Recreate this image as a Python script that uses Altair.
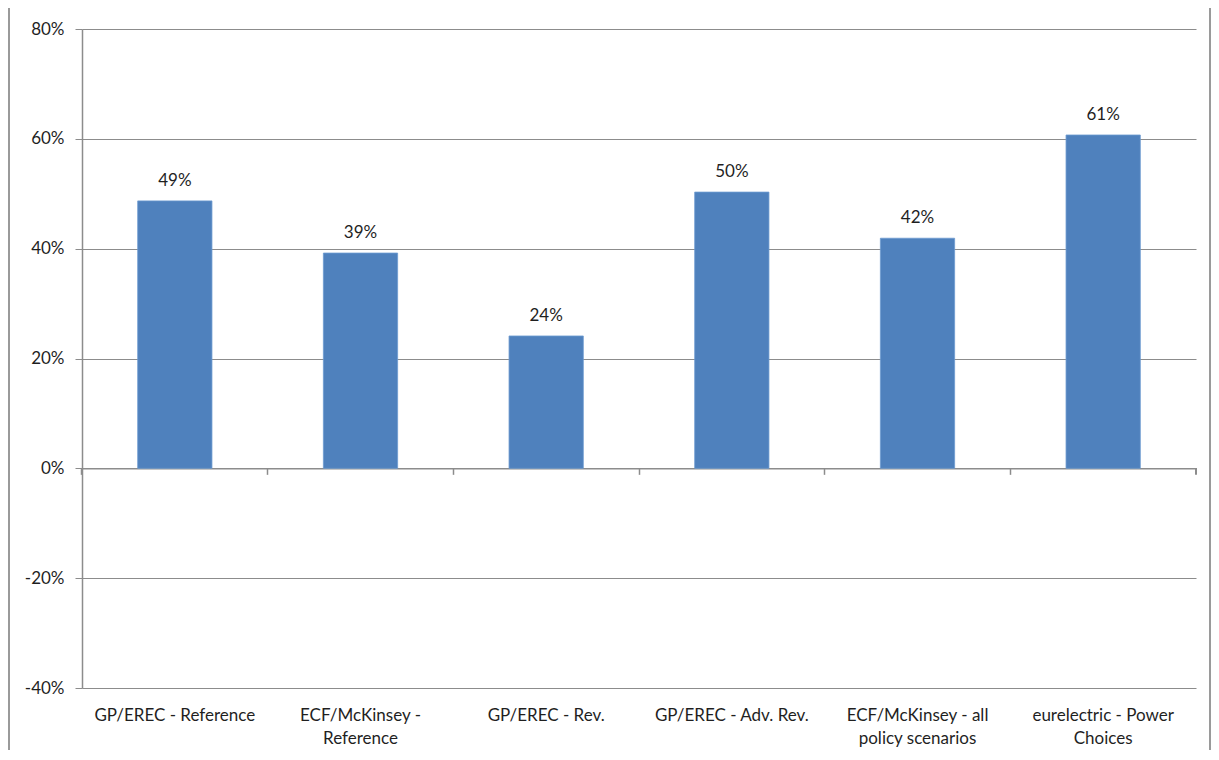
import altair as alt
import pandas as pd

categories = [
    "GP/EREC - Reference",
    "ECF/McKinsey - Reference",
    "GP/EREC - Rev.",
    "GP/EREC - Adv. Rev.",
    "ECF/McKinsey - all policy scenarios",
    "eurelectric - Power Choices",
]
label_lines = [
    ["GP/EREC - Reference"],
    ["ECF/McKinsey -", "Reference"],
    ["GP/EREC - Rev."],
    ["GP/EREC - Adv. Rev."],
    ["ECF/McKinsey - all", "policy scenarios"],
    ["eurelectric - Power", "Choices"],
]
values = [0.487, 0.392, 0.241, 0.503, 0.419, 0.607]
value_labels = ["49%", "39%", "24%", "50%", "42%", "61%"]
y_ticks = [-0.4, -0.2, 0.0, 0.2, 0.4, 0.6, 0.8]

df = pd.DataFrame({"cat": categories, "val": values, "lab": value_labels})

W, H = 1114, 659
FONT = "Lato"
FS = 17
GRID = "#8c8c8c"
TXT = "#1f1f1f"

label_expr = "{" + ", ".join(
    f"{c!r}: {l!r}" for c, l in zip(categories, label_lines)
).replace("'", '"') + "}[datum.value]"

x_enc = alt.X(
    "cat:N",
    sort=categories,
    scale=alt.Scale(paddingInner=0.6, paddingOuter=0.3),
    axis=alt.Axis(
        title=None,
        orient="bottom",
        labelAngle=0,
        labelExpr=label_expr,
        labelFont=FONT,
        labelFontSize=FS,
        labelColor=TXT,
        labelPadding=19,
        labelLineHeight=23,
        domain=False,
        ticks=False,
        grid=False,
    ),
)
y_enc = alt.Y(
    "val:Q",
    scale=alt.Scale(domain=[-0.4, 0.8], nice=False),
    axis=alt.Axis(
        title=None,
        values=y_ticks,
        labelExpr="round(datum.value * 100) + '%'",
        labelFont=FONT,
        labelFontSize=FS,
        labelColor=TXT,
        labelPadding=11,
        tickSize=7,
        tickColor=GRID,
        domainColor=GRID,
        domainWidth=1.5,
        gridColor=GRID,
        gridWidth=1.2,
    ),
)

bars = alt.Chart(df).mark_bar(color="#4F81BD", stroke="#6C9AD0", strokeWidth=0.8).encode(
    x=x_enc, y=y_enc
)

text = alt.Chart(df).mark_text(
    dy=-20, font=FONT, fontSize=FS, color=TXT
).encode(
    x=alt.X("cat:N", sort=categories, axis=None),
    y="val:Q",
    text="lab:N",
)

zero_axis = alt.Chart(df).mark_bar(opacity=0).encode(
    x=alt.X(
        "cat:N",
        sort=categories,
        axis=alt.Axis(
            title=None,
            orient="bottom",
            offset=-(H * 0.4 / 1.2),
            labels=False,
            domain=True,
            domainColor=GRID,
            domainWidth=1.5,
            ticks=True,
            tickColor=GRID,
            tickWidth=1.5,
            tickSize=6,
            bandPosition=-0.75,
            grid=False,
        ),
    ),
    y="val:Q",
)

end_tick = alt.Chart(df).mark_rule(color=GRID, strokeWidth=1.5).encode(
    x=alt.value(W), y=alt.datum(0), y2=alt.value(H * 0.8 / 1.2 + 6)
)

frame = alt.Chart(df).mark_rect(fill=None, stroke="#9a9a9a", strokeWidth=1.5).encode(
    x=alt.value(-73), x2=alt.value(W + 14), y=alt.value(-23), y2=alt.value(H + 80)
)

chart = (
    alt.layer(frame, bars, text, zero_axis, end_tick)
    .resolve_axis(x="independent")
    .properties(
        width=W,
        height=H,
        autosize=alt.AutoSizeParams(type="none"),
        padding={"left": 74, "top": 21, "right": 15, "bottom": 62},
        background="white",
    )
    .configure_view(stroke=None)
)

chart.save("out.html", embed_options={"renderer": "svg", "actions": False})
